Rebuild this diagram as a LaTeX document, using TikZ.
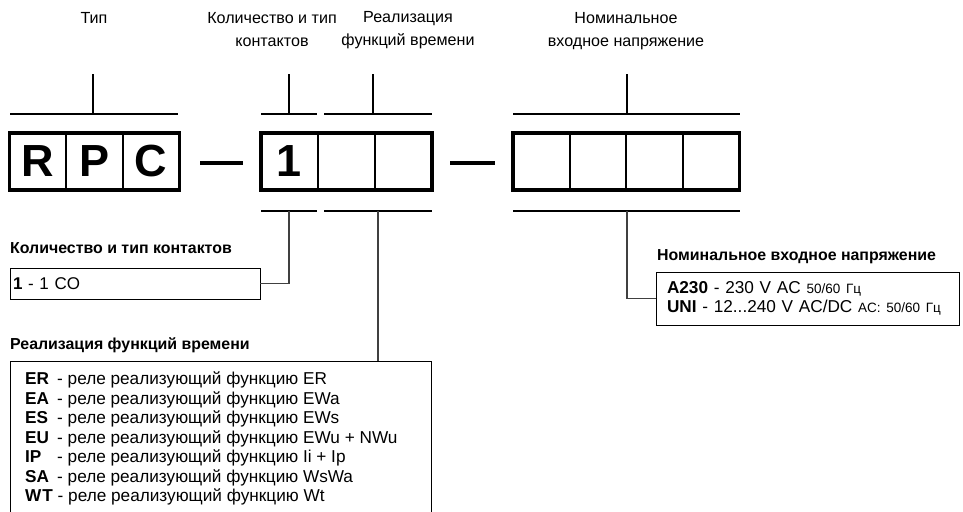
\documentclass[tikz,border=0pt]{standalone}
\usepackage{fontspec}
\setmainfont{Liberation Sans}
\begin{document}
\begin{tikzpicture}[x=1pt,y=-1pt,
 cell/.style={draw, line width=2pt, minimum width=56.6pt, minimum height=57pt, inner sep=0pt, outer sep=0pt, font=\fontsize{45}{45}\selectfont\bfseries},
 frame/.style={line width=3.5pt},
 brk/.style={line width=2pt},
 dashbar/.style={line width=4.5pt},
 conn/.style={line width=1.3pt, draw=black!75},
 info/.style={draw, line width=1pt},
 toplab/.style={align=center, font=\fontsize{16.1}{23}\selectfont},
 head/.style={anchor=west, inner sep=0pt, font=\fontsize{15.9}{18}\selectfont\bfseries},
 ]
\useasboundingbox (0,0) rectangle (963,511);

% top labels
\node[toplab] (lt) at (94,18) {Тип};
\node[toplab] (lk) at (272,30) {Количество и тип\\контактов};
\node[toplab] (lf) at (408,30) {Реализация\\функций времени};
\node[toplab] (lv) at (626,31) {Номинальное\\входное напряжение};

% cells
\node[cell] (r)  at (38,161.5) {R};
\node[cell] (p)  at (94.5,161.5) {P};
\node[cell] (c)  at (151,161.5) {C};
\node[cell] (k1) at (289.5,161.5) {1};
\node[cell] (k2) at (346.5,161.5) {};
\node[cell] (k3) at (403.5,161.5) {};
\node[cell] (v1) at (541.5,161.5) {};
\node[cell] (v2) at (598,161.5) {};
\node[cell] (v3) at (654.5,161.5) {};
\node[cell] (v4) at (711,161.5) {};
\draw[frame] (r.north west) rectangle (c.south east);
\draw[frame] (k1.north west) rectangle (k3.south east);
\draw[frame] (v1.north west) rectangle (v4.south east);

% dashes
\coordinate (d1a) at (200,163); \coordinate (d1b) at (243,163);
\coordinate (d2a) at (450,163); \coordinate (d2b) at (495,163);
\draw[dashbar] (d1a) -- (d1b);
\draw[dashbar] (d2a) -- (d2b);

% top brackets
\coordinate (t1l) at (10,114);  \coordinate (t1r) at (178,114); \coordinate (t1m) at (93,114);  \coordinate (t1u) at (93,74);
\coordinate (t2l) at (261,114); \coordinate (t2r) at (317,114); \coordinate (t2m) at (289,114); \coordinate (t2u) at (289,74);
\coordinate (t3l) at (324,114); \coordinate (t3r) at (432,114); \coordinate (t3m) at (373,114); \coordinate (t3u) at (373,74);
\coordinate (t4l) at (513,114); \coordinate (t4r) at (740,114); \coordinate (t4m) at (627,114); \coordinate (t4u) at (627,74);
\draw[brk] (t1l) -- (t1r) (t1m) -- (t1u);
\draw[brk] (t2l) -- (t2r) (t2m) -- (t2u);
\draw[brk] (t3l) -- (t3r) (t3m) -- (t3u);
\draw[brk] (t4l) -- (t4r) (t4m) -- (t4u);

% bottom brackets
\coordinate (b2l) at (261,210.5); \coordinate (b2r) at (317,210.5); \coordinate (b2m) at (289,210.5);
\coordinate (b3l) at (324,210.5); \coordinate (b3r) at (432,210.5); \coordinate (b3m) at (378,210.5);
\coordinate (b4l) at (513,210.5); \coordinate (b4r) at (740,210.5); \coordinate (b4m) at (627,210.5);
\draw[brk] (b2l) -- (b2r);
\draw[brk] (b3l) -- (b3r);
\draw[brk] (b4l) -- (b4r);

% contacts
\node[head] (hk) at (10,248) {Количество и тип контактов};
\node[info, anchor=north west, inner sep=0pt, inner xsep=3pt, outer sep=0pt, text width=244pt, minimum height=31pt, align=left,
      font=\fontsize{17}{19.5}\selectfont] (cbox) at (10,268) {\textbf{1} - 1 CO};
\draw[conn] (b2m) |- (cbox.east);

% voltage
\node[head] (hv) at (657,257) {Номинальное входное напряжение};
\node[info, anchor=north west, inner sep=0pt, inner xsep=11pt, outer sep=0pt, text width=281pt, minimum height=53pt, align=left,
      font=\fontsize{17.2}{18.5}\selectfont] (vbox) at (656,272)
  {\textbf{A230} - 230 V AC {\fontsize{13.5}{18.5}\selectfont 50/60 Гц}\\
   \textbf{UNI} - 12...240 V AC/DC {\fontsize{13.5}{18.5}\selectfont AC: 50/60 Гц}};
\draw[conn] (b4m) |- (vbox.west);

% functions
\node[head] (hf) at (10,345) {Реализация функций времени};
\coordinate (ftl) at (10,361); \coordinate (ftr) at (431,361);
\coordinate (fbl) at (10,520); \coordinate (fbr) at (431,520);
\draw[info] (fbl) -- (ftl) -- (ftr) -- (fbr);
\draw[conn] (b3m) -- (b3m |- ftl);
\node[anchor=north west, inner sep=0pt, align=left, font=\fontsize{17.2}{19.5}\selectfont] (ftext) at (25,372)
  {\makebox[32pt][l]{\textbf{ER}}- реле реализующий функцию ER\\
   \makebox[32pt][l]{\textbf{EA}}- реле реализующий функцию EWa\\
   \makebox[32pt][l]{\textbf{ES}}- реле реализующий функцию EWs\\
   \makebox[32pt][l]{\textbf{EU}}- реле реализующий функцию EWu + NWu\\
   \makebox[32pt][l]{\textbf{IP}}- реле реализующий функцию Ii + Ip\\
   \makebox[32pt][l]{\textbf{SA}}- реле реализующий функцию WsWa\\
   \textbf{W\kern1pt T} - реле реализующий функцию Wt};
\end{tikzpicture}
\end{document}
